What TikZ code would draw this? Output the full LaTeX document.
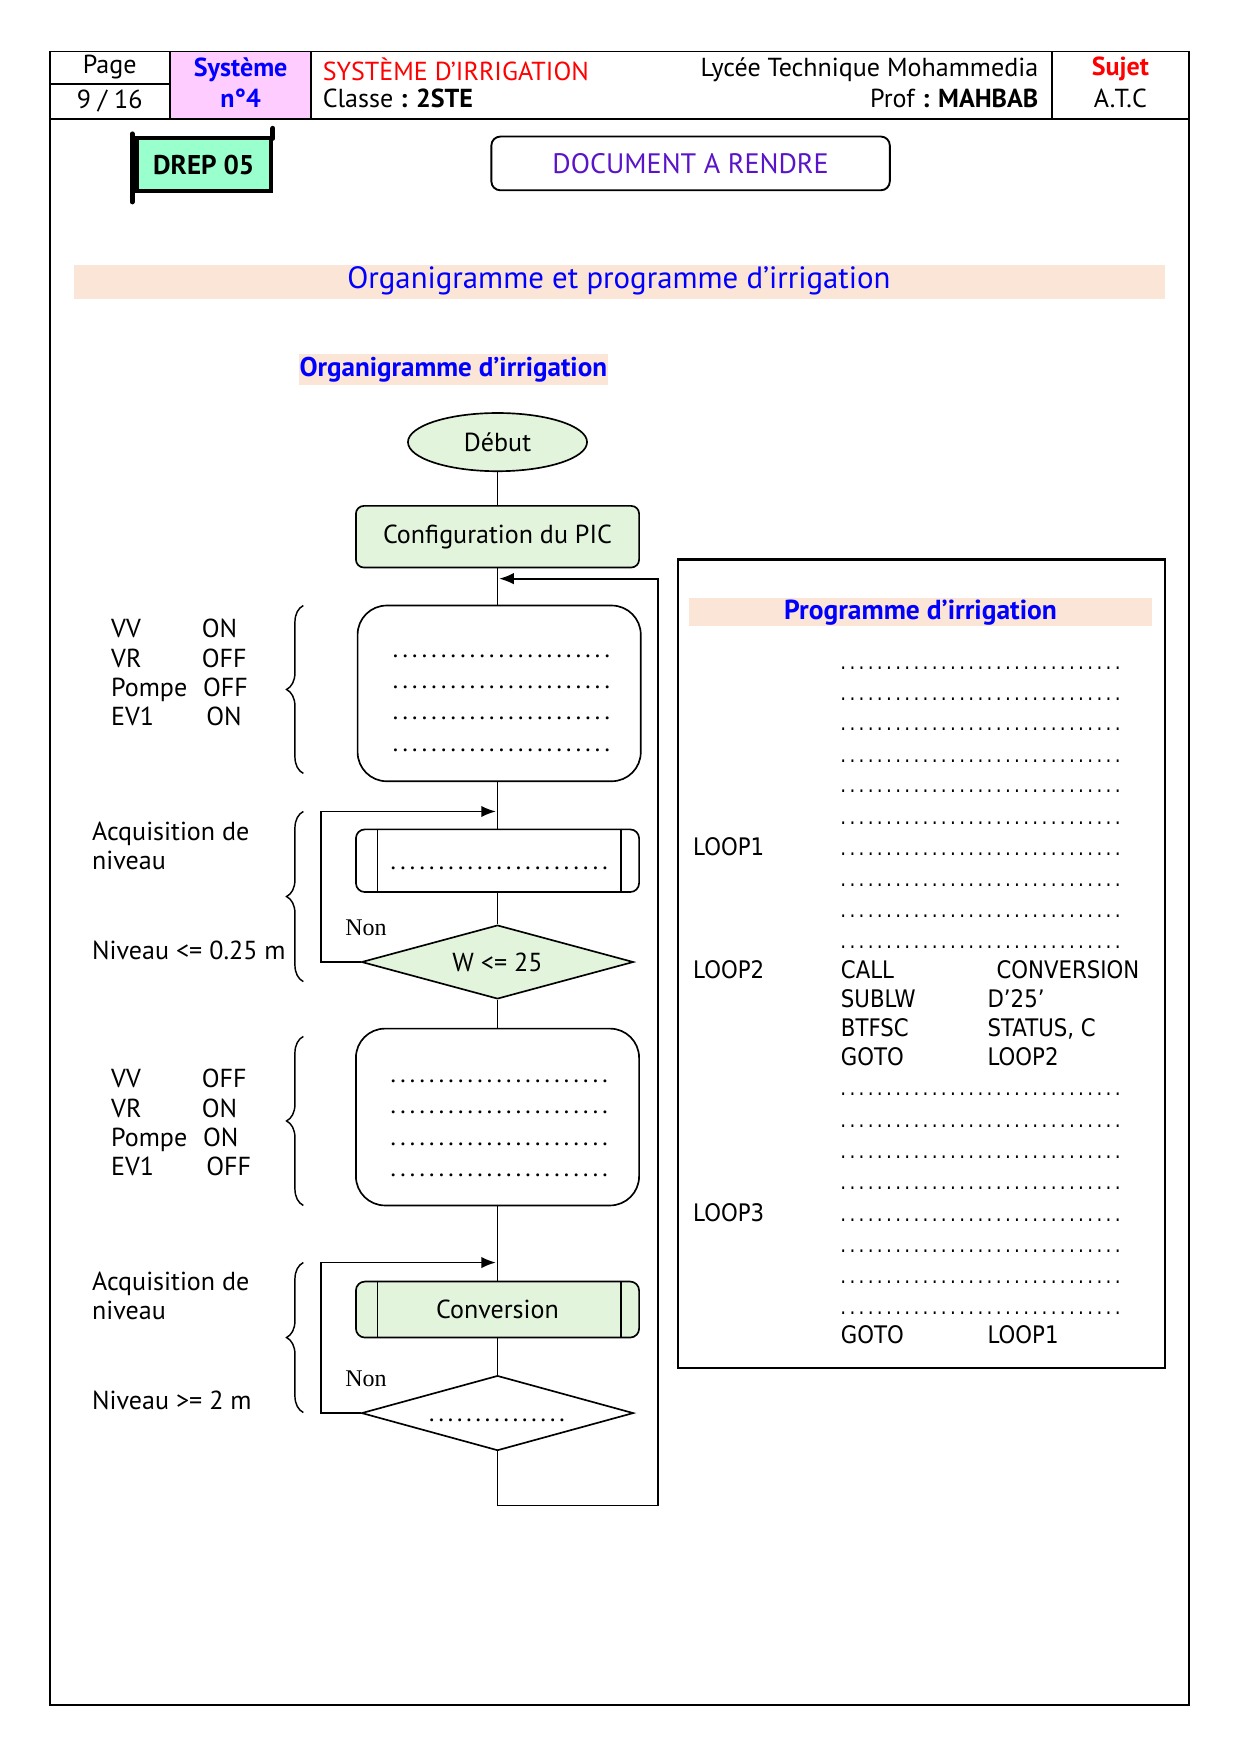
\documentclass[tikz,border=0pt]{standalone}
\usepackage{fontspec}
\setmainfont{PT Sans}
\newfontfamily\prgfont[FakeStretch=0.88]{DejaVu Sans}
\newfontfamily\serfont{Liberation Serif}
\usetikzlibrary{shapes.geometric,decorations.pathreplacing,arrows.meta}
\definecolor{pinkc}{RGB}{255,204,255}
\definecolor{aquac}{RGB}{153,255,204}
\definecolor{peach}{RGB}{251,229,214}
\definecolor{boxgreen}{RGB}{226,245,220}
\definecolor{docviolet}{RGB}{90,20,200}
\definecolor{tblue}{RGB}{0,0,255}
\definecolor{tred}{RGB}{255,0,0}
\newcommand\pxu{0.5373pt}
\newcommand\fsz[1]{\fontsize{#1}{#1}\selectfont}
\newcount\dotcnt
\newcommand\dotrow[2]{\dotcnt=0 \hbox{\loop\ifnum\dotcnt<#1 \hbox to #2{\hss.\hss}\advance\dotcnt by 1 \repeat}}
\tikzset{
  lbl/.style={inner sep=0pt, font=\fsz{12.5}},
  flow/.style={draw, line width=0.8pt, inner sep=0pt},
  procbox/.style={flow, rectangle, rounded corners=7*\pxu, fill=boxgreen, minimum width=253*\pxu, minimum height=55*\pxu, font=\fsz{12.5}},
  bigbox/.style={flow, rectangle, rounded corners=26*\pxu, fill=white, minimum width=253*\pxu, minimum height=157*\pxu},
  subbox/.style={flow, rectangle, rounded corners=8*\pxu, minimum width=253*\pxu, font=\fsz{12.5}},
  decbox/.style={flow, diamond, aspect=3.68, inner sep=0pt, minimum width=243*\pxu, minimum height=66*\pxu, font=\fsz{12.5}},
  conn/.style={line width=0.8pt},
  arr/.style={line width=0.8pt, -{Latex[length=7pt,width=5.5pt]}},
  brc/.style={decorate, decoration={brace, amplitude=15*\pxu}, line width=0.7pt},
  dots/.style={inner sep=0pt, anchor=base, font=\fsz{12}},
  pdots/.style={inner sep=0pt, anchor=base, font=\prgfont\fsz{10}},
  prg/.style={inner sep=0pt, anchor=base west, font=\prgfont\fsz{11.6}},
  nonlbl/.style={inner sep=0pt, font=\serfont\fsz{11.5}},
}
\begin{document}
\begin{tikzpicture}[x=0.5373pt,y=-0.5373pt]
\useasboundingbox (0,0) rectangle (1112,1568);
% ---------- header ----------
\fill[pinkc] (152,46) rectangle (278,106);
\draw[line width=0.9pt] (45,46) rectangle (1062,1523);
\draw[line width=0.9pt] (45,106) -- (1062,106);
\draw[line width=0.9pt] (152,46) -- (152,106) (278,46) -- (278,106) (940,46) -- (940,106) (45,75) -- (152,75);
\node[lbl] (hpage) at (98,60) {Page};
\node[lbl] (hnum) at (98,90) {9 / 16};
\node[lbl, text=tblue, font=\fsz{12.5}\bfseries] (hsys) at (215,62) {Système};
\node[lbl, text=tblue, font=\fsz{12.5}\bfseries] (hsysn) at (215,88) {n°4};
\node[lbl, anchor=west, text=tred] (htitle) at (288,62) {SYSTÈME D’IRRIGATION};
\node[lbl, anchor=west] (hclass) at (288,88) {Classe \textbf{: 2STE}};
\node[lbl, anchor=east] (hlycee) at (928,62) {Lycée Technique Mohammedia};
\node[lbl, anchor=east] (hprof) at (928,88) {Prof \textbf{: MAHBAB}};
\node[lbl, text=tred, font=\fsz{12.5}\bfseries] (hsujet) at (1001,62) {Sujet};
\node[lbl] (hatc) at (1001,88) {A.T.C};
% ---------- DREP ----------
\node[draw, line width=2pt, fill=aquac, minimum width=120*\pxu, minimum height=47*\pxu, inner sep=0pt, font=\fsz{13}\bfseries] (drep) at (182,147) {DREP 05};
\draw[line width=2.4pt, line cap=round] ([xshift=-2*\pxu,yshift=2*\pxu]drep.north west) -- ([xshift=-2*\pxu,yshift=-8*\pxu]drep.south west);
\draw[line width=2.4pt, line cap=round] ([yshift=-2*\pxu]drep.north east) -- ([yshift=7*\pxu]drep.north east);
\node[draw, line width=0.9pt, rounded corners=8*\pxu, minimum width=356*\pxu, minimum height=48*\pxu, inner sep=0pt, text=docviolet, font=\fsz{13.5}] (docr) at (617,146) {DOCUMENT A RENDRE};
% ---------- titles ----------
\node[fill=peach, minimum width=975*\pxu, minimum height=30*\pxu, inner sep=0pt] (tband) at (553.5,252) {};
\node[lbl, text=tblue, font=\fsz{14.8}] (ttitle) at (553,251) {Organigramme et programme d’irrigation};
\node[fill=peach, minimum width=276*\pxu, minimum height=28*\pxu, inner sep=0pt, text=tblue, font=\fsz{13}\bfseries] (torg) at (405,330) {Organigramme d’irrigation};
% ---------- flowchart ----------
\node[flow, ellipse, fill=boxgreen, minimum width=160*\pxu, minimum height=52*\pxu, font=\fsz{12.5}] (debut) at (444.5,395) {Début};
\node[procbox] (config) at (444.5,479.5) {Configuration du PIC};
\node[bigbox] (box1) at (446,619.5) {};
\node[subbox, minimum height=56*\pxu, fill=white] (sub1) at (444.5,769) {};
\draw[line width=0.8pt] ([xshift=20*\pxu]sub1.north west) -- ([xshift=20*\pxu]sub1.south west);
\draw[line width=0.8pt] ([xshift=-17*\pxu]sub1.north east) -- ([xshift=-17*\pxu]sub1.south east);
\node[decbox, fill=boxgreen] (dec1) at (444.5,859.5) {W <= 25};
\node[bigbox, minimum height=158*\pxu] (box2) at (444.5,998) {};
\node[subbox, minimum height=50*\pxu, fill=boxgreen] (conv) at (444.5,1170) {Conversion};
\draw[line width=0.8pt] ([xshift=20*\pxu]conv.north west) -- ([xshift=20*\pxu]conv.south west);
\draw[line width=0.8pt] ([xshift=-17*\pxu]conv.north east) -- ([xshift=-17*\pxu]conv.south east);
\node[decbox, fill=white, minimum height=67*\pxu] (dec2) at (444.5,1262.5) {};
% dotted rows inside boxes
\foreach \yy/\nm in {585/a,613/b,641/c,669/d} {\node[dots] (b1\nm) at (448,\yy+2) {\dotrow{23}{4.62pt}};}
\node[dots] (s1d) at (446,777) {\dotrow{23}{4.62pt}};
\foreach \yy/\nm in {965/a,993/b,1021/c,1049/d} {\node[dots] (b2\nm) at (446,\yy+2) {\dotrow{23}{4.62pt}};}
\node[dots] (d2d) at (444,1270) {\dotrow{15}{4.46pt}};
% connectors
\draw[conn] (debut.south) -- (config.north);
\draw[conn] (config.south) -- (config.south |- box1.north);
\draw[conn] (box1.south -| sub1.north) -- (sub1.north);
\draw[conn] (sub1.south) -- (dec1.north);
\draw[conn] (dec1.south) -- (box2.north);
\draw[conn] (box2.south) -- (conv.north);
\draw[conn] (conv.south) -- (dec2.north);
\coordinate (l1a) at (287,859.5);
\coordinate (l1b) at (287,725);
\coordinate (l1c) at (443,725);
\draw[arr] (dec1.west) -- (l1a) -- (l1b) -- (l1c);
\coordinate (l2a) at (287,1262.5);
\coordinate (l2b) at (287,1128);
\coordinate (l2c) at (443,1128);
\draw[arr] (dec2.west) -- (l2a) -- (l2b) -- (l2c);
\coordinate (r1) at (444.5,1345);
\coordinate (r2) at (588,1345);
\coordinate (r3) at (588,517);
\coordinate (r4) at (446,517);
\draw[arr] (dec2.south) -- (r1) -- (r2) -- (r3) -- (r4);
\node[nonlbl] (non1) at (327,829) {Non};
\node[nonlbl] (non2) at (327,1232) {Non};
% left annotations
\foreach \yy/\a/\b/\bx/\nm in {563/VV/ON/180/a, 589/VR/OFF/180/b, 615/Pompe/OFF/181/c, 641/EV1/ON/184/d} {
  \node[lbl, anchor=base west] (g1\nm) at (99,\yy+7) {\a};
  \node[lbl, anchor=base west] (g1v\nm) at (\bx,\yy+7) {\b};
}
\foreach \yy/\a/\b/\bx/\nm in {965/VV/OFF/180/a, 991/VR/ON/180/b, 1017/Pompe/ON/181/c, 1043/EV1/OFF/184/d} {
  \node[lbl, anchor=base west] (g2\nm) at (99,\yy+7) {\a};
  \node[lbl, anchor=base west] (g2v\nm) at (\bx,\yy+7) {\b};
}
\node[lbl, anchor=base west] (acq1) at (82,751) {Acquisition de};
\node[lbl, anchor=base west] (niv1) at (82,777) {niveau};
\node[lbl, anchor=base west] (cond1) at (82,857) {Niveau <= 0.25 m};
\node[lbl, anchor=base west] (acq2) at (82,1153) {Acquisition de};
\node[lbl, anchor=base west] (niv2) at (82,1179) {niveau};
\node[lbl, anchor=base west] (cond2) at (82,1259) {Niveau >= 2 m};
\draw[brc] (271,691) -- (271,541);
\draw[brc] (271,877) -- (271,725);
\draw[brc] (271,1077) -- (271,926);
\draw[brc] (271,1262) -- (271,1128);
% ---------- program ----------
\node[draw, line width=1.1pt, minimum width=435*\pxu, minimum height=722*\pxu, inner sep=0pt] (prgbox) at (823.5,861) {};
\node[fill=peach, minimum width=413*\pxu, minimum height=25*\pxu, inner sep=0pt, text=tblue, font=\fsz{13.2}\bfseries] (prgtitle) at (822.5,547) {Programme d’irrigation};
\foreach \yy [count=\i] in {597,625,652,680,707,736,763,791,819,846,978,1006,1034,1062,1090,1118,1146,1173} {\node[pdots] (pd\i) at (876,\yy+1) {\dotrow{31}{4.39pt}};}
\node[prg] (lp1) at (619,764) {LOOP1};
\node[prg] (lp2) at (619,874) {LOOP2};
\node[prg] (lp3) at (619,1091) {LOOP3};
\node[prg] (i1) at (751,874) {CALL};
\node[prg] (o1) at (890,874) {CONVERSION};
\node[prg] (i2) at (751,900) {SUBLW};
\node[prg] (o2) at (882,900) {D’25’};
\node[prg] (i3) at (751,926) {BTFSC};
\node[prg] (o3) at (882,926) {STATUS, C};
\node[prg] (i4) at (751,952) {GOTO};
\node[prg] (o4) at (882,952) {LOOP2};
\node[prg] (i5) at (751,1200) {GOTO};
\node[prg] (o5) at (882,1200) {LOOP1};
\end{tikzpicture}
\end{document}
